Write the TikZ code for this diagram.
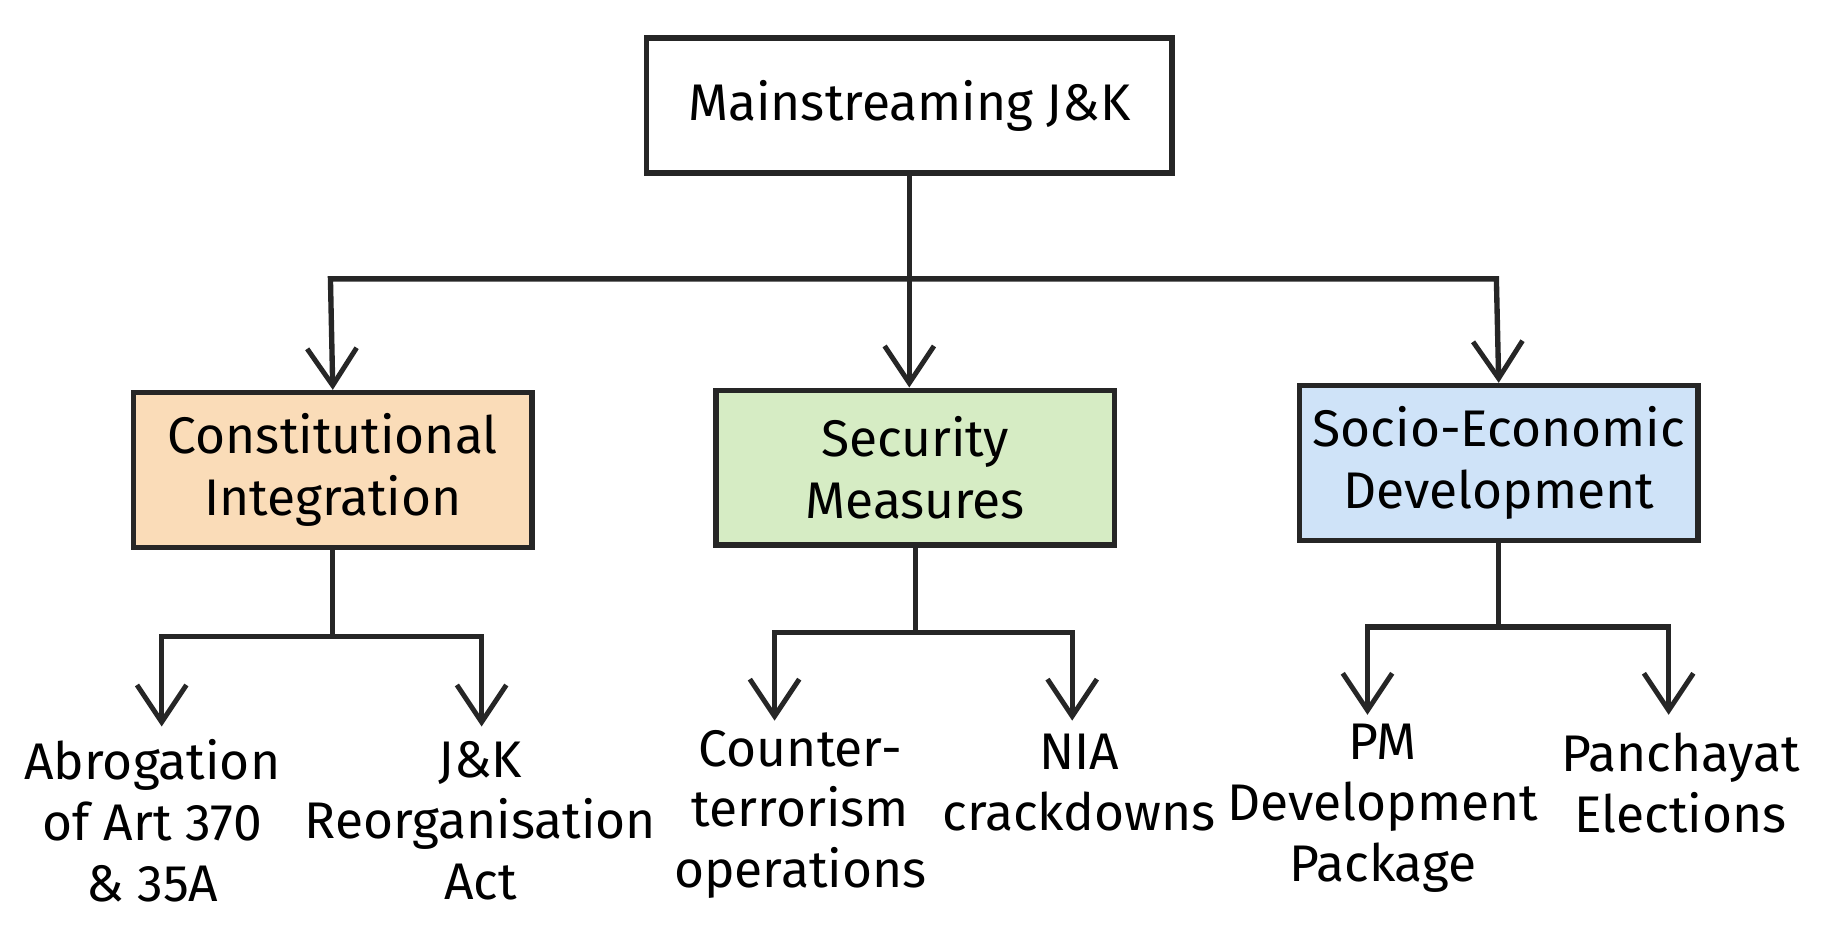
\documentclass[tikz,border=0pt]{standalone}
\usepackage{fontspec}
\setmainfont{Fira Sans}
\usetikzlibrary{arrows.meta}
\begin{document}
\begin{tikzpicture}[x=0.01cm,y=-0.01cm,
  box/.style={draw=black!85,line width=1.3pt,minimum width=3.4cm,minimum height=1.32cm,inner sep=0pt,align=center,font=\fontsize{12.5}{15}\selectfont},
  leaf/.style={align=center,font=\fontsize{12.5}{14.8}\selectfont},
  conn/.style={line width=1.3pt,black!85},
  arr/.style={conn,-{Straight Barb[length=9pt,width=12pt,line width=1.2pt]}}]
\useasboundingbox (0,0) rectangle (1560,811);
\node[box,minimum width=4.48cm,minimum height=1.15cm] (root) at (776,90) {Mainstreaming J\&K};
\node[box,fill={rgb,255:red,250;green,220;blue,184}] (ci) at (284,401) {Constitutional\\Integration};
\node[box,fill={rgb,255:red,214;green,236;blue,196}] (sm) at (781,399) {Security\\Measures};
\node[box,fill={rgb,255:red,207;green,227;blue,248}] (se) at (1279,395) {Socio-Economic\\Development};
\node[leaf] (l1) at (130,700) {Abrogation\\of Art 370\\\& 35A};
\node[leaf] (l2) at (410,700) {J\&K\\Reorganisation\\Act};
\node[leaf] (l3) at (683,695) {Counter-\\terrorism\\operations};
\node[leaf] (l4) at (921,668) {NIA\\crackdowns};
\node[leaf] (l5) at (1180,690) {PM\\Development\\Package};
\node[leaf] (l6) at (1434,668) {Panchayat\\Elections};
\coordinate (j0) at (776,238);
\draw[conn] (root.south) -- (j0);
\draw[arr] (j0) -- (282,238) -- (ci.north);
\draw[arr] (j0) -- (sm.north -| j0);
\draw[arr] (j0) -- (1277,238) -- (se.north);
\coordinate (j1) at (284,543);
\draw[conn] (ci.south) -- (j1);
\draw[arr] (j1) -- (138,543) -- (138,620);
\draw[arr] (j1) -- (411,543) -- (411,620);
\coordinate (j2) at (781,540);
\draw[conn] (sm.south) -- (j2);
\draw[arr] (j2) -- (661,540) -- (661,615);
\draw[arr] (j2) -- (915,540) -- (915,615);
\coordinate (j3) at (1279,535);
\draw[conn] (se.south) -- (j3);
\draw[arr] (j3) -- (1167,535) -- (1167,610);
\draw[arr] (j3) -- (1424,535) -- (1424,610);
\end{tikzpicture}
\end{document}
